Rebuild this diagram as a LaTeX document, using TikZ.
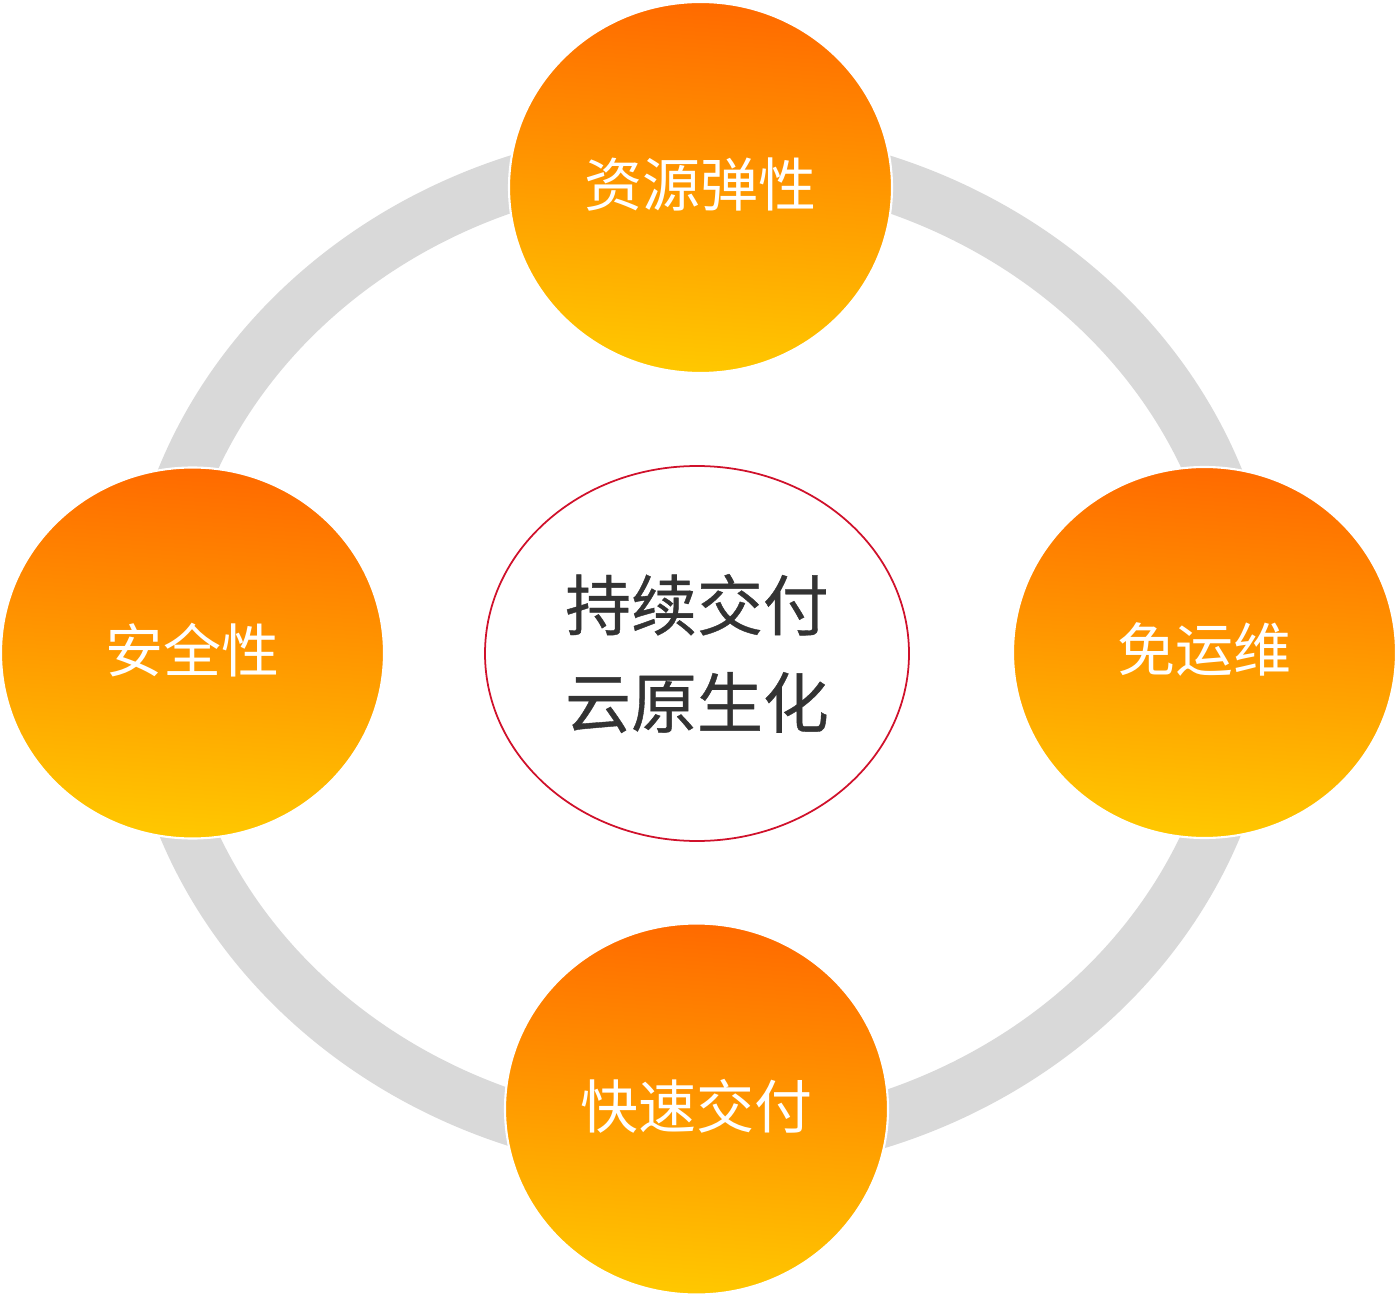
\documentclass[tikz,border=0pt]{standalone}
\usepackage{fontspec}
\newfontfamily\cjk{Noto Sans CJK SC}
\newfontfamily\cjkdark[FakeBold=0.6]{Noto Sans CJK SC}
\usetikzlibrary{shapes.geometric, positioning}
\definecolor{ringgray}{HTML}{D9D9D9}
\definecolor{orangetop}{HTML}{FF6A00}
\definecolor{orangebot}{HTML}{FFC800}
\definecolor{corered}{HTML}{D0112B}
\definecolor{textdark}{HTML}{333333}

\begin{document}
\begin{tikzpicture}[
  ring/.style={draw=ringgray, line width=1.1cm},
  ball/.style={ellipse, shade, top color=orangetop, bottom color=orangebot, shading angle=-4,
    draw=white, line width=1.2pt, minimum width=7.66cm, minimum height=7.42cm, inner sep=0pt,
    text=white, font=\cjk\fontsize{33}{40}\selectfont},
  core/.style={ellipse, draw=corered, line width=1pt, fill=white, minimum width=8.48cm,
    minimum height=7.5cm, inner sep=0pt, align=center, text=textdark,
    font=\cjkdark\fontsize{37.5}{55.5}\selectfont}
  ]
  \useasboundingbox (0,0) rectangle (28,-25.96);
  % ring
  \coordinate (mid) at (14.0,-13.02);
  \draw[ring] (mid) ellipse (11.0cm and 9.94cm);
  % centre
  \node[core] (cloud) at (13.94,-13.07) {持续交付\\云原生化};
  % four features
  \node[ball] (elastic) at (14.01,-3.75) {\raisebox{0.2cm}{资源弹性}};
  \node[ball] (secure) at (3.85,-13.06) {\raisebox{0.2cm}{安全性}};
  \node[ball] (noops) at (24.09,-13.05) {\raisebox{0.2cm}{免运维}};
  \node[ball] (deliver) at (13.93,-22.18) {\raisebox{0.2cm}{快速交付}};
\end{tikzpicture}
\end{document}
